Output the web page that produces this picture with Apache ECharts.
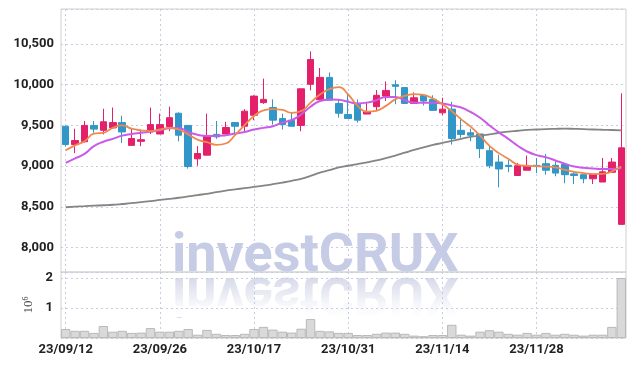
<!DOCTYPE html>
<html lang="ko">
<head>
    <meta charset="UTF-8" />
    <title>investCRUX</title>
    <script src="https://cdn.jsdelivr.net/npm/echarts@6/dist/echarts.min.js"></script>
    <style>
        html, body { margin: 0; padding: 0; background: #fff; }
        #chart { width: 634px; height: 366px; }
    </style>
</head>
<body>
    <div id="chart"></div>
    <script>
        // 거래일
        const dates = [
            "23/09/12", "23/09/13", "23/09/14", "23/09/15", "23/09/18", "23/09/19", "23/09/20", "23/09/21", "23/09/22", "23/09/25",
            "23/09/26", "23/09/27", "23/10/04", "23/10/05", "23/10/06", "23/10/10", "23/10/11", "23/10/12", "23/10/13", "23/10/16",
            "23/10/17", "23/10/18", "23/10/19", "23/10/20", "23/10/23", "23/10/24", "23/10/25", "23/10/26", "23/10/27", "23/10/30",
            "23/10/31", "23/11/01", "23/11/02", "23/11/03", "23/11/06", "23/11/07", "23/11/08", "23/11/09", "23/11/10", "23/11/13",
            "23/11/14", "23/11/15", "23/11/16", "23/11/17", "23/11/20", "23/11/21", "23/11/22", "23/11/23", "23/11/24", "23/11/27",
            "23/11/28", "23/11/29", "23/11/30", "23/12/01", "23/12/04", "23/12/05", "23/12/06", "23/12/07", "23/12/08", "23/12/11"
        ];
        const openP = [
            9490, 9265, 9300, 9500, 9440, 9470, 9535, 9255, 9305, 9420,
            9395, 9485, 9650, 9500, 9090, 9135, 9390, 9395, 9535, 9490,
            9625, 9780, 9720, 9585, 9565, 9500, 10005, 9815, 10090, 9770,
            9635, 9760, 9640, 9730, 9860, 10000, 9965, 9770, 9870, 9820,
            9655, 9700, 9440, 9410, 9395, 9190, 9050, 9010, 8885, 8950,
            9010, 9030, 9010, 9020, 8905, 8895, 8845, 8805, 8925, 8285
        ];
        const highP = [
            9495, 9460, 9555, 9555, 9705, 9720, 9620, 9460, 9450, 9720,
            9645, 9730, 9660, 9500, 9245, 9645, 9555, 9545, 9535, 9700,
            9870, 10075, 9820, 9645, 9655, 9950, 10410, 10205, 10150, 9820,
            9895, 9820, 9780, 9935, 10040, 10055, 9965, 9905, 9870, 9870,
            9840, 9790, 9595, 9460, 9395, 9245, 9140, 9080, 9040, 9130,
            9100, 9150, 9060, 9020, 8935, 8895, 8900, 9100, 9100, 9895
        ];
        const lowP = [
            9240, 9160, 9290, 9410, 9390, 9465, 9285, 9255, 9245, 9395,
            9395, 9430, 9305, 8970, 9005, 9135, 9335, 9395, 9375, 9425,
            9565, 9765, 9510, 9450, 9490, 9430, 9930, 9815, 9810, 9595,
            9585, 9535, 9640, 9675, 9800, 9760, 9770, 9770, 9745, 9685,
            9625, 9265, 9350, 9305, 9100, 8975, 8740, 8925, 8885, 8950,
            8915, 8895, 8875, 8790, 8780, 8790, 8780, 8805, 8925, 8285
        ];
        const closeP = [
            9265, 9315, 9500, 9455, 9545, 9535, 9420, 9340, 9325, 9510,
            9510, 9595, 9380, 8995, 9155, 9375, 9360, 9475, 9490, 9675,
            9860, 9820, 9565, 9510, 9490, 9950, 10310, 10090, 9810, 9650,
            9585, 9565, 9670, 9870, 9930, 9980, 9770, 9840, 9800, 9685,
            9700, 9340, 9390, 9380, 9215, 9005, 8965, 8995, 9005, 9000,
            8995, 8950, 8915, 8895, 8885, 8845, 8900, 8930, 9050, 9225
        ];
        // 이동평균선
        const ma5 = [
            9195, 9255, 9305, 9400, 9410, 9470, 9500, 9460, 9440, 9430,
            9450, 9470, 9450, 9390, 9325, 9295, 9262, 9278, 9385, 9505,
            9615, 9685, 9700, 9690, 9655, 9675, 9780, 9880, 9945, 9970,
            9880, 9740, 9670, 9680, 9740, 9820, 9862, 9885, 9875, 9830,
            9760, 9675, 9575, 9485, 9375, 9250, 9160, 9090, 9020, 9005,
            9000, 8995, 8985, 8955, 8930, 8915, 8903, 8905, 8935, 8995
        ];
        const ma20 = [
            9040, 9095, 9150, 9245, 9300, 9335, 9375, 9395, 9410, 9425,
            9440, 9465, 9470, 9420, 9385, 9370, 9370, 9380, 9400, 9420,
            9450, 9470, 9490, 9535, 9565, 9635, 9730, 9800, 9820, 9815,
            9790, 9770, 9780, 9810, 9850, 9850, 9810, 9780, 9780, 9780,
            9770, 9745, 9720, 9665, 9595, 9500, 9415, 9335, 9250, 9180,
            9135, 9110, 9070, 9030, 8995, 8980, 8970, 8965, 8965, 8975
        ];
        const ma60 = [
            8495, 8502, 8508, 8514, 8520, 8526, 8535, 8545, 8558, 8570,
            8585, 8598, 8612, 8628, 8645, 8660, 8680, 8700, 8715, 8730,
            8745, 8760, 8778, 8798, 8820, 8845, 8880, 8920, 8950, 8985,
            9005, 9025, 9045, 9070, 9100, 9130, 9165, 9200, 9230, 9260,
            9285, 9310, 9335, 9360, 9375, 9390, 9410, 9425, 9435, 9445,
            9450, 9455, 9458, 9460, 9458, 9455, 9450, 9447, 9444, 9440
        ];
        const volume = [
            300000, 240000, 240000, 170000, 400000, 210000, 240000, 170000, 180000, 330000,
            210000, 210000, 240000, 300000, 110000, 270000, 140000, 100000, 100000, 140000,
            300000, 370000, 280000, 210000, 180000, 310000, 630000, 240000, 220000, 170000,
            170000, 100000, 100000, 140000, 180000, 180000, 140000, 80000, 60000, 100000,
            100000, 440000, 110000, 80000, 210000, 260000, 210000, 140000, 110000, 170000,
            110000, 170000, 110000, 140000, 110000, 80000, 110000, 110000, 370000, 2000000
        ];

        const myChart = echarts.init(document.getElementById("chart"));

        const candleData = dates.map((d, i) => [openP[i], closeP[i], lowP[i], highP[i]]);
        const everyTen = (i) => i % 10 === 0;

        const dotted = { show: true, lineStyle: { color: "#c8cce0", type: [2, 3], width: 1 } };
        const labelFont = { fontFamily: "Roboto", fontWeight: "bold", color: "#222" };
        const upColor = "#e4206b";
        const downColor = "#3296c8";
        const markY = 284; // 워터마크 텍스트 하단
        const mirrorY = 275; // 반사 기준선

        option = {
            animation: false,
            grid: [
                { left: 61, right: 8, top: 9, height: 263, show: true, borderColor: "#d0d0d0", borderWidth: 1 },
                { left: 61, right: 8, top: 272, height: 66, show: true, borderColor: "#d0d0d0", borderWidth: 1 },
            ],
            xAxis: [
                {
                    type: "category",
                    gridIndex: 0,
                    data: dates,
                    axisLine: { show: false },
                    axisTick: { show: false },
                    axisLabel: { show: false },
                    splitLine: { ...dotted, alignWithLabel: true, interval: everyTen },
                },
                {
                    type: "category",
                    gridIndex: 1,
                    data: dates,
                    axisLine: { show: false },
                    axisTick: { show: false },
                    axisLabel: { interval: everyTen, fontSize: 13, margin: 5, ...labelFont },
                    splitLine: { ...dotted, alignWithLabel: true, interval: everyTen },
                },
            ],
            yAxis: [
                {
                    type: "value",
                    gridIndex: 0,
                    min: 7700,
                    max: 10930,
                    axisLine: { show: false },
                    axisTick: { show: false },
                    axisLabel: {
                        fontSize: 13,
                        margin: 7,
                        ...labelFont,
                        formatter: (v) => (v % 500 ? "" : v.toLocaleString("en-US")),
                    },
                    splitLine: dotted,
                },
                {
                    type: "value",
                    gridIndex: 1,
                    min: 0,
                    max: 2200000,
                    interval: 1000000,
                    axisLine: { show: false },
                    axisTick: { show: false },
                    axisLabel: {
                        fontSize: 13,
                        margin: 8,
                        ...labelFont,
                        formatter: (v) => (v > 0 && v % 1000000 === 0 ? String(v / 1000000) : ""),
                    },
                    splitLine: dotted,
                    name: "10{s|6}",
                    nameLocation: "middle",
                    nameRotate: 90,
                    nameGap: 14,
                    nameTextStyle: {
                        fontFamily: "Liberation Serif",
                        fontSize: 13,
                        color: "#444",
                        rich: { s: { fontFamily: "Liberation Serif", fontSize: 8, color: "#444", verticalAlign: "top" } },
                    },
                },
            ],
            graphic: [
                {
                    type: "text",
                    x: 172,
                    y: markY,
                    z: 1,
                    silent: true,
                    style: {
                        text: "investCRUX",
                        fontSize: 54,
                        fontWeight: "bold",
                        fontFamily: "Roboto",
                        fill: "#c6cce5",
                        align: "left",
                        verticalAlign: "bottom",
                    },
                },
                {
                    // 반사 이미지
                    type: "group",
                    x: 0,
                    y: mirrorY * 2 - 2,
                    scaleY: -1,
                    z: -2,
                    silent: true,
                    children: [
                        {
                            type: "text",
                            x: 172,
                            y: markY,
                            z: -2,
                            style: {
                                text: "investCRUX",
                                fontSize: 54,
                                fontWeight: "bold",
                                fontFamily: "Roboto",
                                fill: "#d3d7e8",
                                align: "left",
                                verticalAlign: "bottom",
                            },
                        },
                    ],
                },
                {
                    // 반사 페이드
                    type: "rect",
                    z: -1,
                    silent: true,
                    shape: { x: 160, y: mirrorY, width: 310, height: 42 },
                    style: {
                        fill: new echarts.graphic.LinearGradient(0, 0, 0, 1, [
                            { offset: 0, color: "rgba(255,255,255,0)" },
                            { offset: 0.7, color: "rgba(255,255,255,0.8)" },
                            { offset: 1, color: "rgba(255,255,255,1)" },
                        ]),
                    },
                },
            ],
            series: [
                {
                    name: "가격",
                    type: "candlestick",
                    xAxisIndex: 0,
                    yAxisIndex: 0,
                    data: candleData,
                    barWidth: 7,
                    itemStyle: { color: upColor, color0: downColor, borderColor: upColor, borderColor0: downColor, borderWidth: 1 },
                },
                {
                    name: "MA60",
                    type: "line",
                    data: ma60,
                    smooth: true,
                    symbol: "none",
                    lineStyle: { color: "#858585", width: 1.8 },
                },
                {
                    name: "MA20",
                    type: "line",
                    data: ma20,
                    smooth: true,
                    symbol: "none",
                    lineStyle: { color: "#c95be8", width: 2 },
                },
                {
                    name: "MA5",
                    type: "line",
                    data: ma5,
                    smooth: true,
                    symbol: "none",
                    lineStyle: { color: "#ef8a4e", width: 1.8 },
                },
                {
                    name: "거래량",
                    type: "bar",
                    xAxisIndex: 1,
                    yAxisIndex: 1,
                    data: volume,
                    barWidth: "100%",
                    itemStyle: { color: "#d9d9d9", borderColor: "#b9b9b9", borderWidth: 1 },
                },
            ],
        };

        myChart.setOption(option);
    </script>
</body>
</html>
